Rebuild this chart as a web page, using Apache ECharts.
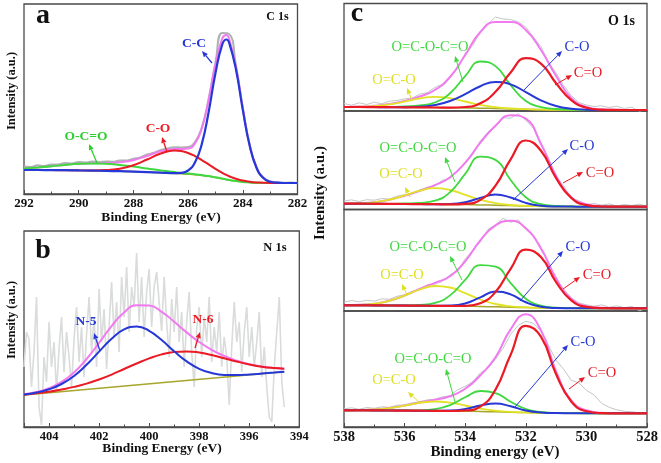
<!DOCTYPE html>
<html><head><meta charset="utf-8">
<script src="https://cdn.jsdelivr.net/npm/echarts@6/dist/echarts.min.js"></script>
<style>html,body{margin:0;padding:0;background:#fff}#c{width:661px;height:463px}</style>
</head><body><div id="c"></div>
<script>
// ---------- Panel a : C 1s ----------
const aTicks = [282, 284, 286, 288, 290, 292];
const aEnergy = [292, 291.5, 291, 290.5, 290, 289.5, 289, 288.5, 288, 287.5, 287, 286.5, 286.25, 286, 285.75, 285.5, 285.25, 285, 284.75, 284.6, 284.5, 284.25, 284, 283.75, 283.5, 283.25, 283, 282.75, 282.5, 282];
const aBackground = [24.0, 24.0, 23.9, 23.8, 23.6, 23.4, 23.1, 22.8, 22.4, 21.9, 21.3, 20.6, 20.2, 19.8, 19.3, 18.6, 17.7, 16.6, 15.3, 14.5, 14.0, 12.9, 12.1, 11.6, 11.3, 11.1, 11.0, 11.0, 11.0, 11.0];
const aCC = [24.0, 24.0, 23.9, 23.8, 23.6, 23.4, 23.1, 22.8, 22.4, 21.9, 21.3, 20.8, 21.1, 23.5, 31.4, 49.9, 81.8, 120.7, 149.6, 154.5, 151.4, 124.5, 84.1, 48.4, 26.2, 15.9, 12.2, 11.3, 11.0, 11.0];
const aCO = [24.0, 24.0, 23.9, 23.8, 23.65, 23.6, 23.9, 25.3, 28.8, 34.5, 40.5, 43.5, 42.9, 41.0, 37.9, 33.9, 29.6, 25.2, 21.2, 19.05, 17.8, 15.2, 13.4, 12.3, 11.6, 11.3, 11.07, 11.03, 11.0, 11.0];
const aOCO = [25.5, 26.5, 27.7, 29.1, 30.2, 30.6, 30.3, 29.1, 27.4, 25.5, 23.6, 21.9, 21.1, 20.5, 19.75, 18.9, 17.9, 16.7, 15.4, 14.55, 14.04, 12.9, 12.1, 11.6, 11.3, 11.1, 11.0, 11.0, 11.0, 11.0];
const aEnvelope = [25.45, 26.5, 27.7, 29.1, 30.2, 30.8, 31.0, 31.7, 33.8, 38.05, 42.75, 44.96, 45.0, 45.4, 50.45, 65.5, 93.9, 129.4, 155.6, 159.1, 155.2, 126.8, 85.4, 49.1, 26.5, 16.1, 12.3, 11.3, 11.0, 11.0];
const aRawStart = 292, aRawStep = 0.25;
const aRaw = [27.5, 27.0, 28.8, 28.0, 29.6, 29.5, 31.0, 30.6, 32.0, 31.4, 32.5, 31.8, 32.6, 32.2, 33.4, 33.5, 35.2, 36.6, 39.5, 41.2, 44.0, 45.5, 46.8, 46.5, 47.0, 52.0, 66.5, 95.0, 131.5, 161.0, 160.0, 128.5, 86.5, 49.5, 27.0, 16.5, 12.8, 11.8, 11.2, 11.5, 11.0];

// ---------- Panel b : N 1s ----------
const bTicks = [394, 396, 398, 400, 402, 404];
const bEnergy = [405, 404.5, 404, 403.5, 403, 402.5, 402, 401.5, 401, 400.5, 400, 399.5, 399, 398.5, 398, 397.5, 397, 396.5, 396, 395.5, 395, 394.6];
const bBgEnergy = [405, 394.6];
const bBackground = [32.0, 55.3];
const bN5 = [32.5, 34.5, 37.7, 43.0, 51.0, 62.2, 75.4, 88.3, 97.6, 100.4, 96.2, 86.9, 75.7, 65.6, 58.2, 54.0, 52.1, 51.9, 52.5, 53.4, 54.4, 55.3];
const bN6 = [32.3, 33.7, 35.3, 37.5, 40.1, 43.4, 47.5, 52.4, 58.0, 63.5, 68.6, 72.6, 75.0, 75.6, 74.5, 72.0, 68.8, 65.5, 62.6, 60.3, 58.9, 58.3];
const bEnvelope = [32.8, 35.1, 38.8, 45.1, 54.6, 68.0, 84.2, 100.9, 114.6, 121.8, 121.6, 115.2, 105.3, 94.6, 85.0, 77.2, 71.0, 66.4, 62.9, 60.4, 58.9, 58.3];
const bRawStart = 405, bRawStep = 0.1;
const bRaw = [60, 95, 88, 40, 75, 130, 20, 2, 70, 45,
  105, 60, 85, 35, 78, 110, 55, 95, 70, 40,
  88, 120, 65, 100, 50, 92, 130, 75, 110, 60,
  138, 85, 118, 58, 100, 145, 90, 125, 75, 150,
  110, 160, 95, 140, 120, 174, 105, 150, 90, 135,
  158, 100, 140, 155, 125, 96, 150, 105, 70, 128,
  95, 140, 85, 115, 60, 105, 135, 75, 40, 98,
  120, 70, 110, 85, 130, 65, 100, 75, 115, 60,
  90, 70, 22, 80, 125, 85, 105, 55, 95, 120,
  70, 100, 60, 85, 115, 50, 80, 40, 10, 5,
  60, 95, 130, 45, 20];

// ---------- Panel c : O 1s (four stacked spectra) ----------
const cTicks = [528, 530, 532, 534, 536, 538];
const cEnergy = [538, 537.5, 537, 536.5, 536, 535.5, 535, 534.5, 534, 533.5, 533, 532.5, 532, 531.5, 531, 530.5, 530, 529.5, 529, 528.5, 528];
const cBackground = [3.0, 3.0, 2.9, 2.8, 2.7, 2.6, 2.5, 2.3, 2.1, 1.8, 1.5, 1.1, 0.7, 0.4, 0.2, 0.1, 0, 0, 0, 0, 0];
const cRawStart = 538, cRawStep = 0.25;

const c1Yellow = [3.1, 3.3, 3.9, 5.6, 8.4, 11.6, 13.2, 11.8, 8.5, 5.1, 2.8, 1.5, 0.8, 0.4, 0.2, 0.1, 0, 0, 0, 0, 0];
const c1Green = [3.0, 3.0, 3.0, 3.1, 3.7, 4.6, 7.5, 16.8, 33.8, 48.5, 43.9, 24.9, 8.9, 2.9, 1.0, 0.4, 0.1, 0, 0, 0, 0];
const c1Blue = [3.0, 3.0, 2.9, 2.8, 2.85, 3.3, 4.9, 9.0, 15.9, 23.8, 28.1, 25.6, 17.9, 9.6, 4.0, 1.3, 0.3, 0.05, 0, 0, 0];
const c1Red = [3.0, 3.0, 2.9, 2.8, 2.7, 2.6, 2.5, 2.4, 3.0, 6.7, 18.2, 37.6, 51.9, 46.4, 26.7, 9.9, 2.3, 0.35, 0.04, 0, 0];
const c1Envelope = [3.1, 3.4, 4.2, 6.0, 9.0, 13.5, 20.0, 33.0, 55.0, 78.0, 88.0, 88.0, 80.0, 60.0, 34.0, 12.0, 3.0, 0.6, 0.1, 0, 0];
const c1Raw = [6.5, 4.8, 7.2, 5.5, 7.8, 6.2, 8.8, 9.5, 11.2, 12.0, 15.8, 17.5, 22.5, 26.0, 33.5, 41.5, 56.5, 64.5, 78.5, 86, 93, 91, 90.5, 88, 83, 73, 63.5, 48, 37, 24.5, 14.5, 7.5, 5, 3.5, 4.2, 2.5, 3.8, 1.5, 2.8, -1.5, 1.0];

const c2Yellow = [3.1, 3.4, 4.4, 7.0, 11.3, 16.0, 18.5, 16.7, 11.9, 6.9, 3.5, 1.7, 0.8, 0.4, 0.2, 0.1, 0, 0, 0, 0, 0];
const c2Green = [3.0, 3.0, 2.9, 2.9, 3.2, 3.8, 6.0, 14.6, 32.9, 50.0, 46.8, 26.7, 9.4, 2.6, 0.8, 0.3, 0, 0, 0, 0, 0];
const c2Blue = [3.0, 3.0, 2.9, 2.8, 2.7, 2.6, 2.5, 2.7, 4.4, 8.8, 12.2, 9.2, 3.8, 1.0, 0.25, 0.1, 0, 0, 0, 0, 0];
const c2Red = [3.0, 3.0, 2.9, 2.8, 2.7, 2.6, 2.5, 2.3, 2.9, 6.8, 21.1, 47.4, 66.2, 56.0, 28.6, 8.8, 1.6, 0.18, 0, 0, 0];
const c2Envelope = [3.1, 3.5, 4.5, 7.0, 11.0, 16.0, 21.5, 29.5, 44.0, 64.0, 81.0, 91.5, 88.0, 63.0, 31.0, 9.5, 2.5, 0.6, 0.2, 0, 0];
const c2Raw = [5.8, 6.8, 5.2, 7.0, 6.5, 8.2, 7.6, 10.5, 12.0, 13.0, 16.8, 19.5, 20.8, 26.5, 28.0, 36.5, 43.0, 52.0, 66.0, 74.5, 80, 89, 88.5, 93, 86.5, 78.5, 61.5, 48.5, 30, 21, 8.5, 6, 2, 3.2, 1.5, 2.8, 0.8, 2.2, 1.2, 2.5, 0.5];

const c3Yellow = [3.1, 3.45, 4.6, 7.5, 12.7, 18.8, 22.3, 20.8, 15.1, 8.8, 4.3, 2.0, 0.9, 0.44, 0.2, 0.1, 0, 0, 0, 0, 0];
const c3Green = [3.0, 3.0, 2.9, 2.85, 2.9, 3.4, 5.4, 12.9, 28.4, 43.1, 41.6, 25.2, 9.6, 2.7, 0.7, 0.2, 0, 0, 0, 0, 0];
const c3Blue = [3.0, 3.0, 2.9, 2.8, 2.7, 2.6, 2.5, 2.7, 4.8, 10.9, 16.8, 13.9, 6.0, 1.5, 0.3, 0.1, 0, 0, 0, 0, 0];
const c3Red = [3.0, 3.0, 2.9, 2.8, 2.7, 2.6, 2.5, 2.3, 2.5, 5.1, 16.3, 39.5, 58.6, 51.3, 26.2, 7.9, 1.35, 0.14, 0, 0, 0];
const c3Envelope = [3.1, 3.5, 4.6, 7.5, 12.8, 19.5, 25.5, 32.0, 47.0, 68.0, 83.0, 87.5, 80.0, 60.0, 30.0, 9.5, 2.2, 0.5, 0.1, 0, 0];
const c3Raw = [6.0, 7.8, 6.5, 8.0, 7.2, 9.5, 9.0, 12.0, 13.5, 16.5, 18.5, 23.5, 24.0, 27.0, 33.5, 37.0, 49.5, 58.0, 66.5, 79, 83.5, 90, 86, 88.5, 79, 73, 58.5, 46.5, 29, 19.5, 10.5, 5.5, 3.5, 2.0, 3.5, 1.0, 2.5, 0.5, 2.0, -2.5, 0.5];

const c4Yellow = [3.05, 3.24, 3.8, 5.2, 7.7, 10.4, 11.8, 10.7, 7.8, 4.75, 2.7, 1.4, 0.8, 0.4, 0.2, 0.1, 0, 0, 0, 0, 0];
const c4Green = [3.0, 3.0, 2.9, 2.85, 2.9, 3.0, 4.1, 8.15, 16.0, 22.3, 20.2, 11.6, 4.3, 1.3, 0.4, 0.15, 0, 0, 0, 0, 0];
const c4Blue = [3.0, 3.0, 2.9, 2.8, 2.7, 2.6, 2.5, 2.7, 4.2, 7.7, 9.8, 7.0, 2.8, 0.8, 0.2, 0.1, 0, 0, 0, 0, 0];
const c4Red = [3.0, 3.0, 2.9, 2.8, 2.7, 2.6, 2.5, 2.3, 2.8, 6.7, 23.7, 58.6, 87.4, 76.6, 39.1, 11.8, 2.0, 0.2, 0, 0, 0];
const c4Envelope = [3.1, 3.3, 3.9, 5.3, 7.8, 10.8, 13.5, 17.0, 24.5, 38.0, 56.0, 84.0, 99.0, 83.0, 42.0, 13.0, 3.0, 0.5, 0.1, 0, 0];
const c4Raw = [4.5, 5.5, 4.0, 5.8, 5.0, 6.5, 6.0, 8.0, 8.5, 10.5, 11.5, 13.5, 14.0, 16.5, 17.5, 23.5, 27.0, 31.5, 40.5, 45.0, 54, 65, 79, 88, 92, 90, 82, 68, 53, 44, 33, 30.5, 23, 18.5, 10, 6, 3.5, 2.0, 1.5, 0.5, 1.0];

// ---------- rendering ----------
const F = '"Liberation Serif","Times New Roman",serif';
const COL = {grayA:'#aeb2b2', gray:'#c3c7c6', grayB:'#d9dcda', pink:'#f27af0', blue:'#2638d6', red:'#ea1b25', green:'#3fd83f', yellow:'#e2e226', olive:'#a6a62c', frame:'#4a4a4a'};

// pairs are emitted in ascending energy order so the spline runs left-to-right in data space
function pairs(xs, ys) { return ys.map((y, i) => [xs[i], y]).reverse(); }
function stepPairs(start, step, ys) { return ys.map((y, i) => [+(start - step * i).toFixed(3), y]).reverse(); }
function ln(data, gi, color, width, smooth, z) {
  return {type:'line', data, xAxisIndex:gi, yAxisIndex:gi, symbol:'none', showSymbol:false,
    smooth: smooth, lineStyle:{color, width}, z, silent:true, animation:false, clip:true};
}
function xa(gi, ticks, show, fs, showMax) {
  return {gridIndex:gi, type:'value', min:ticks[0], max:(gi===1?405:ticks[ticks.length-1]), interval:2, inverse:true, show,
    axisLine:{show:true, onZero:false, lineStyle:{color:COL.frame, width:1.3}},
    axisTick:{show:true, inside:true, length:4, lineStyle:{color:COL.frame}},
    minorTick:{show:true, splitNumber:2, length:2.5, lineStyle:{color:COL.frame}},
    splitLine:{show:false}, minorSplitLine:{show:false},
    axisLabel:{margin:3, color:'#111', fontFamily:F, fontWeight:'bold', fontSize:fs, showMaxLabel:showMax, showMinLabel:true}};
}
function ya(gi, min, max) { return {gridIndex:gi, type:'value', min, max, show:false, splitLine:{show:false}}; }
function gr(left, top, width, height) { return {left, top, width, height, show:true, borderColor:COL.frame, borderWidth:1.3, backgroundColor:'transparent'}; }

const series = [];
// a
series.push(ln(stepPairs(aRawStart, aRawStep, aRaw), 0, COL.grayA, 2, 0.5, 1));
series.push(ln(pairs(aEnergy, aEnvelope), 0, COL.pink, 2, 0.5, 2));
series.push(ln(pairs(aEnergy, aBackground), 0, COL.olive, 1.5, 0.5, 3));
series.push(ln(pairs(aEnergy, aOCO), 0, COL.green, 2, 0.5, 4));
series.push(ln(pairs(aEnergy, aCO), 0, COL.red, 2, 0.5, 4));
series.push(ln(pairs(aEnergy, aCC), 0, COL.blue, 2.2, 0.5, 4));
// b
series.push(ln(stepPairs(bRawStart, bRawStep, bRaw), 1, COL.grayB, 1.6, false, 1));
series.push(ln(pairs(bBgEnergy, bBackground), 1, COL.olive, 1.6, false, 3));
series.push(ln(pairs(bEnergy, bEnvelope), 1, COL.pink, 2, 0.5, 2));
series.push(ln(pairs(bEnergy, bN6), 1, COL.red, 2, 0.5, 4));
series.push(ln(pairs(bEnergy, bN5), 1, COL.blue, 2, 0.5, 4));
// c
const cSets = [
  [c1Raw, c1Envelope, c1Yellow, c1Green, c1Blue, c1Red],
  [c2Raw, c2Envelope, c2Yellow, c2Green, c2Blue, c2Red],
  [c3Raw, c3Envelope, c3Yellow, c3Green, c3Blue, c3Red],
  [c4Raw, c4Envelope, c4Yellow, c4Green, c4Blue, c4Red]
];
cSets.forEach((s, k) => {
  const gi = 2 + k;
  series.push(ln(stepPairs(cRawStart, cRawStep, s[0]), gi, COL.gray, 1, false, 1));
  series.push(ln(pairs(cEnergy, s[1]), gi, COL.pink, 2, 0.5, 2));
  series.push(ln(pairs(cEnergy, cBackground), gi, COL.olive, 1.5, 0.5, 3));
  series.push(ln(pairs(cEnergy, s[2]), gi, COL.yellow, 1.8, 0.5, 4));
  series.push(ln(pairs(cEnergy, s[3]), gi, COL.green, 1.8, 0.5, 4));
  series.push(ln(pairs(cEnergy, s[4]), gi, COL.blue, 2, 0.5, 4));
  series.push(ln(pairs(cEnergy, s[5]), gi, COL.red, 2.2, 0.5, 5));
});

// annotations
const g = [];
function txt(text, x, y, color, size, weight, rot) {
  g.push({type:'text', x, y, rotation: rot || 0, z:100,
    style:{text, fill:color, fontFamily:F, fontSize:size, fontWeight:weight, align:'center', verticalAlign:'middle'}});
}
function arrow(x1, y1, x2, y2, color, w) {
  const ang = Math.atan2(y2 - y1, x2 - x1), L = 6, W = 2.6;
  const bx = x2 - L * Math.cos(ang), by = y2 - L * Math.sin(ang);
  g.push({type:'line', z:100, shape:{x1, y1, x2:bx, y2:by}, style:{stroke:color, lineWidth:w}});
  g.push({type:'polygon', z:100, shape:{points:[[x2, y2], [bx + W * Math.sin(ang), by - W * Math.cos(ang)], [bx - W * Math.sin(ang), by + W * Math.cos(ang)]]}, style:{fill:color}});
}
txt('a', 43, 15.5, '#111', 28, 'bold');
txt('b', 43, 250.5, '#111', 28, 'bold');
txt('c', 357, 14, '#111', 28, 'bold');
txt('C 1s', 277.5, 16.7, '#111', 12, 'bold');
txt('N 1s', 275, 247.5, '#111', 12.5, 'bold');
txt('O 1s', 621.5, 21.3, '#111', 14, 'bold');
txt('Binding Energy (eV)', 161, 218, '#111', 13.5, 'bold');
txt('Binding Energy (eV)', 162, 449, '#111', 13.5, 'bold');
txt('Binding energy (eV)', 495, 452, '#111', 15, 'bold');
txt('Intensity (a.u.)', 12, 91, '#111', 12.5, 'bold', Math.PI / 2);
txt('Intensity (a.u.)', 12, 320, '#111', 12.5, 'bold', Math.PI / 2);
txt('Intensity (a.u.)', 320, 193, '#111', 15, 'bold', Math.PI / 2);
txt('C-C', 194, 44, COL.blue, 13.5, 'bold'); arrow(212, 63, 202, 51, COL.blue, 1.3);
txt('C-O', 158, 129, COL.red, 13.5, 'bold'); arrow(167, 152, 162, 137, COL.red, 1.3);
txt('O-C=O', 86, 137, '#2fcf2f', 13.5, 'bold'); arrow(97, 163, 89, 144, '#2fcf2f', 1.3);
txt('N-5', 86, 321.7, COL.blue, 13.5, 'bold'); arrow(100, 351, 94, 333, COL.blue, 1.3);
txt('N-6', 203, 320, COL.red, 13.5, 'bold'); arrow(195, 348, 200, 332, COL.red, 1.3);
const cLab = [
  {g:[430,47], y:[394,80], b:[577,47], r:[588,73], ga:[463,82,455,56], ya:[412,100,407,88], ba:[523,91,562,51], ra:[555,85,572,75]},
  {g:[418,148], y:[401,174], b:[582,146], r:[600,173], ga:[455,182,445,157], ya:[410,197,405,187], ba:[513,200,568,149], ra:[563,183,583,172]},
  {g:[428,247], y:[402,275], b:[578,247], r:[597,275], ga:[462,280,450,256], ya:[407,295,402,284], ba:[520,301,563,251], ra:[563,289,580,277]},
  {g:[433,359], y:[394,380], b:[583,342], r:[602,373], ga:[455,402,446,369], ya:[420,403,408,392], ba:[515,407,568,345], ra:[569,389,585,377]}
];
cLab.forEach(L => {
  txt('O=C-O-C=O', L.g[0], L.g[1], COL.green, 14.5, 'normal');
  txt('O=C-O', L.y[0], L.y[1], '#dede22', 14.5, 'normal');
  txt('C-O', L.b[0], L.b[1], COL.blue, 14.5, 'normal');
  txt('C=O', L.r[0], L.r[1], COL.red, 14.5, 'normal');
  arrow(L.ga[0], L.ga[1], L.ga[2], L.ga[3], COL.green, 1);
  arrow(L.ya[0], L.ya[1], L.ya[2], L.ya[3], '#dede22', 1);
  arrow(L.ba[0], L.ba[1], L.ba[2], L.ba[3], COL.blue, 1);
  arrow(L.ra[0], L.ra[1], L.ra[2], L.ra[3], COL.red, 1);
});

const option = {
  animation:false,
  backgroundColor:'#fff',
  grid:[gr(24, 4, 273.5, 190), gr(24, 231, 275.3, 196),
        gr(344, 3.5, 303, 107.5), gr(344, 111, 303, 98.5), gr(344, 209.5, 303, 101.5), gr(344, 311, 303, 116)],
  xAxis:[xa(0, aTicks, true, 13, true), xa(1, bTicks, true, 12.5, false),
         xa(2, cTicks, false, 14.5, true), xa(3, cTicks, false, 14.5, true), xa(4, cTicks, false, 14.5, true), xa(5, cTicks, true, 14.5, true)],
  yAxis:[ya(0, 0, 190), ya(1, 0, 196), ya(2, -1, 106.5), ya(3, -2.8, 95.7), ya(4, -2.7, 98.8), ya(5, -13.7, 102.3)],
  series,
  graphic:g
};
const chart = echarts.init(document.getElementById('c'), null, {renderer:'canvas', width:661, height:463});
chart.setOption(option);
</script>
</body></html>
